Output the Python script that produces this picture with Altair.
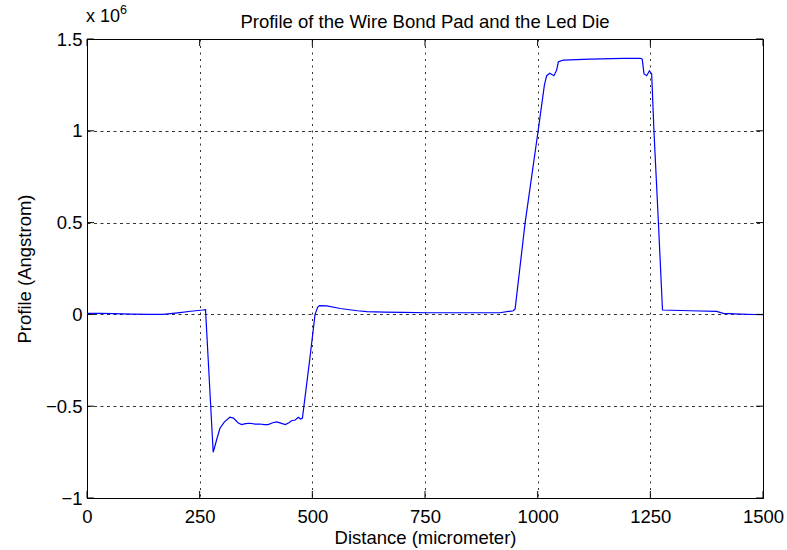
import altair as alt
import pandas as pd

# Profile data (Distance in micrometer, Profile in units of 1e6 Angstrom)
distance = [0, 30, 60, 100, 140, 169, 190, 206, 230, 257,
            263, 280, 288, 295, 305, 317, 325, 335, 343, 352,
            362, 373, 384, 393, 402, 412, 421, 430, 440, 448,
            454, 462, 469, 474, 478, 495, 506, 512, 516, 532,
            562, 600, 621, 660, 700, 754, 800, 850, 916, 946,
            950, 972, 1001, 1015, 1020, 1027, 1036, 1042, 1046, 1057,
            1116, 1190, 1228, 1232, 1236, 1242, 1248, 1253, 1258, 1268,
            1277, 1338, 1397, 1412, 1450, 1500]
profile = [0.006, 0.006, 0.004, 0.002, 0.0, 0.0, 0.006, 0.01, 0.017, 0.024,
           0.026, -0.751, -0.68, -0.62, -0.585, -0.56, -0.565, -0.59, -0.60, -0.595,
           -0.593, -0.598, -0.597, -0.60, -0.60, -0.59, -0.585, -0.592, -0.60, -0.59,
           -0.579, -0.575, -0.56, -0.57, -0.565, -0.23, 0.0, 0.04, 0.048, 0.046,
           0.032, 0.02, 0.015, 0.012, 0.011, 0.009, 0.009, 0.009, 0.009, 0.02,
           0.03, 0.496, 1.0, 1.25, 1.30, 1.313, 1.30, 1.33, 1.376, 1.385,
           1.39, 1.395, 1.395, 1.39, 1.31, 1.30, 1.327, 1.31, 1.0, 0.496,
           0.024, 0.02, 0.016, 0.006, 0.002, -0.002]

x_ticks = [0, 250, 500, 750, 1000, 1250, 1500]
y_ticks = [-1, -0.5, 0, 0.5, 1, 1.5]
title_text = "Profile of the Wire Bond Pad and the Led Die"

W, H = 676, 459
FONT = "Liberation Sans"
FS = 18.5

df = pd.DataFrame({"d": distance, "p": profile})
xt = pd.DataFrame({"v": x_ticks})
yt = pd.DataFrame({"v": y_ticks})

xscale = alt.Scale(domain=[0, 1500], nice=False, zero=False)
yscale = alt.Scale(domain=[-1, 1.5], nice=False, zero=False)

line = alt.Chart(df).mark_line(color="#0000ff", strokeWidth=1.2, clip=True).encode(
    x=alt.X("d:Q", scale=xscale,
            axis=alt.Axis(values=x_ticks, title="Distance (micrometer)", ticks=False,
                          format="d", labelFlush=False, labelPadding=9, grid=True,
                          gridDash=[2, 4.5], gridColor="#000000", gridOpacity=0.8,
                          titleBaseline="alphabetic", titleY=45)),
    y=alt.Y("p:Q", scale=yscale,
            axis=alt.Axis(values=y_ticks, title="Profile (Angstrom)", ticks=False,
                          format="~g", labelFlush=False, labelPadding=5, grid=True,
                          gridDash=[3, 3.5], gridColor="#000000", gridOpacity=0.8,
                          titleBaseline="alphabetic", titleX=-57, titleAngle=270)),
)

tl = 7
xt_top = alt.Chart(xt).mark_rule(color="black", strokeWidth=1).encode(
    x=alt.X("v:Q", scale=xscale), y=alt.value(0), y2=alt.value(tl))
xt_bot = alt.Chart(xt).mark_rule(color="black", strokeWidth=1).encode(
    x=alt.X("v:Q", scale=xscale), y=alt.value(H), y2=alt.value(H - tl))
yt_left = alt.Chart(yt).mark_rule(color="black", strokeWidth=1).encode(
    y=alt.Y("v:Q", scale=yscale), x=alt.value(0), x2=alt.value(tl))
yt_right = alt.Chart(yt).mark_rule(color="black", strokeWidth=1).encode(
    y=alt.Y("v:Q", scale=yscale), x=alt.value(W), x2=alt.value(W - tl))

one = alt.Data(values=[{}])
title_mark = alt.Chart(one).mark_text(
    text=title_text, font=FONT, align="center", baseline="alphabetic", color="black"
).encode(x=alt.value(W / 2), y=alt.value(-11), size=alt.value(FS))
exp_base = alt.Chart(one).mark_text(
    text="x 10", font=FONT, align="left", baseline="alphabetic", color="black"
).encode(x=alt.value(-1), y=alt.value(-17), size=alt.value(18))
exp_sup = alt.Chart(one).mark_text(
    text="6", font=FONT, align="left", baseline="alphabetic", color="black"
).encode(x=alt.value(33), y=alt.value(-25), size=alt.value(12.5))

chart = alt.layer(line, xt_top, xt_bot, yt_left, yt_right, title_mark, exp_base, exp_sup).properties(
    width=W, height=H,
    autosize=alt.AutoSizeParams(type="none"),
    padding={"left": 87, "top": 39, "right": 24, "bottom": 52},
    background="white",
).configure_view(stroke="black", strokeWidth=1).configure_axis(
    domainColor="black", labelFont=FONT, labelFontSize=FS, labelColor="black",
    titleFont=FONT, titleFontSize=FS, titleFontWeight="normal", titleColor="black",
)

chart.save("out.html", embed_options={"renderer": "svg", "actions": False})
